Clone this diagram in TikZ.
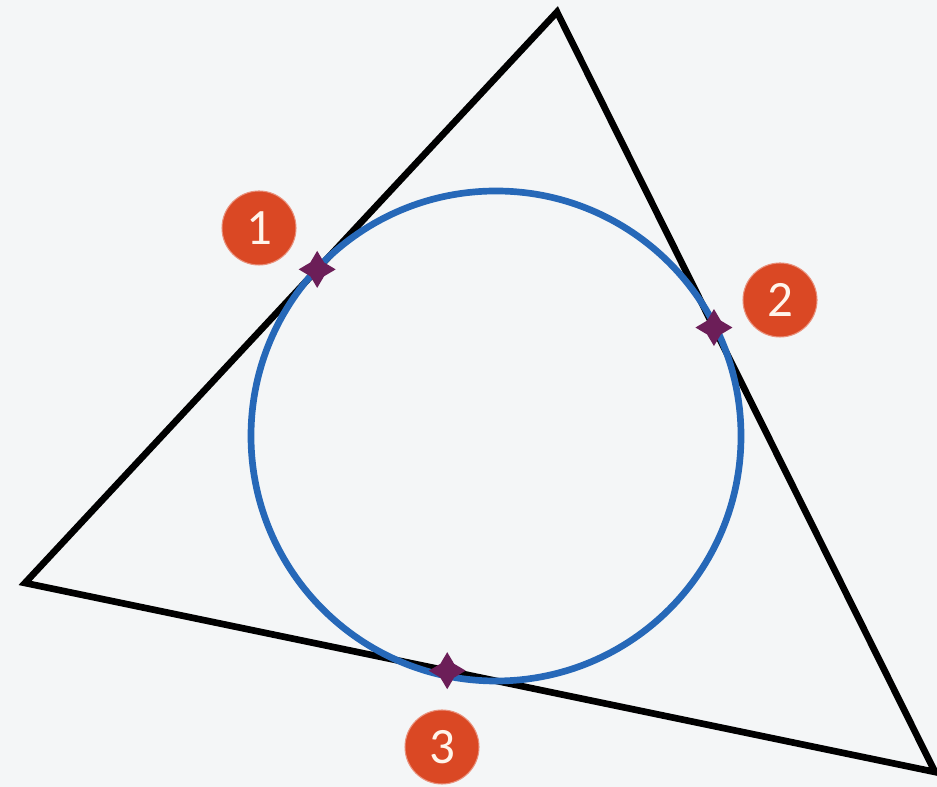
\documentclass[tikz,border=0pt]{standalone}
\usepackage{fontspec}
\setsansfont{Carlito}
\usetikzlibrary{calc,shapes.geometric}

\definecolor{paper}{RGB}{244,246,247}
\definecolor{ringblue}{RGB}{38,104,184}
\definecolor{badgered}{RGB}{218,72,36}
\definecolor{markpurple}{RGB}{108,30,88}

\tikzset{
  badge/.style={circle, fill=badgered, draw=badgered!60!white, line width=0.6pt,
    minimum size=1.48cm, inner sep=0pt, text=white!92!orange,
    font=\sffamily\fontsize{29}{31}\selectfont},
  tangentmark/.style={star, star points=4, star point ratio=1.9, fill=markpurple,
    minimum size=0.74cm, inner sep=0pt}
}

\begin{document}
\begin{tikzpicture}
% Background
\fill[paper] (0,0) rectangle (18.74,15.74);
\useasboundingbox (0,0) rectangle (18.74,15.74);

% Triangle
\coordinate (A) at (11.14,15.50);
\coordinate (B) at (0.50,4.08);
\coordinate (C) at (18.70,0.30);
\draw[line width=3.8pt, line join=miter] (A) -- (B) -- (C) -- cycle;

% Incircle
\coordinate (I) at (9.92,7.02);
\draw[ringblue, line width=3.8pt] (I) circle (4.90);

% Tangent points
\coordinate (T1) at ($(A)!(I)!(B)$);
\coordinate (T2) at ($(A)!(I)!(C)$);
\coordinate (T3) at ($(B)!(I)!(C)$);
\node[tangentmark] (m1) at (T1) {};
\node[tangentmark] (m2) at (T2) {};
\node[tangentmark] (m3) at (T3) {};

% Labels
\node[badge] (n1) at (5.18,11.18) {1};
\node[badge] (n2) at (15.60,9.74) {2};
\node[badge] (n3) at (8.84,0.80) {3};

\end{tikzpicture}
\end{document}
